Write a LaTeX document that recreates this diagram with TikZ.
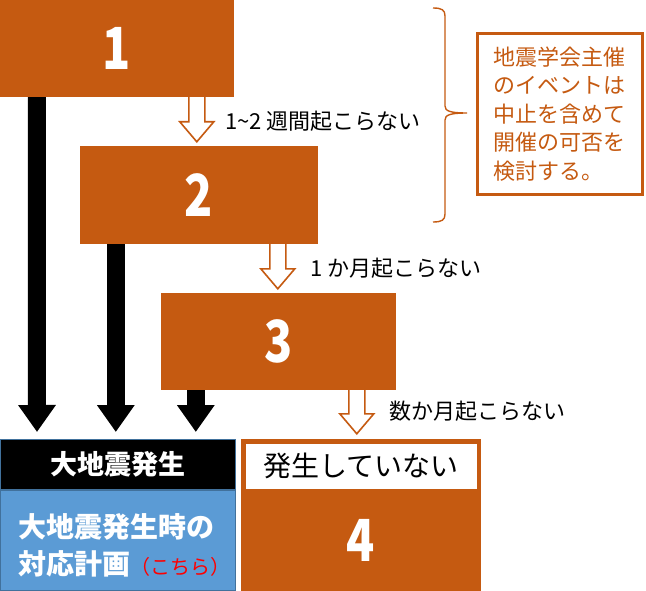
\documentclass[tikz,border=0pt]{standalone}
\usepackage{fontspec}
\newfontfamily\jp{Noto Sans CJK JP}
\usetikzlibrary{arrows.meta,calc}
\definecolor{orn}{HTML}{C55A11}
\definecolor{blu}{HTML}{5B9BD5}
\definecolor{blud}{HTML}{41719C}
\newcommand\dig[1]{{\fontsize{58}{58}\selectfont\bfseries\scalebox{0.8}[1]{#1}}}
\newcommand\hollowarrow[2]{%
  \draw[hol] ($(#1)+(-8,0)$) -- ($(#2)+(-8,-20)$) -- ($(#2)+(-17,-20)$) -- (#2)
    -- ($(#2)+(17,-20)$) -- ($(#2)+(8,-20)$) -- ($(#1)+(8,0)$);}
\begin{document}
\begin{tikzpicture}[x=1pt,y=-1pt,font=\jp,
  box/.style={fill=orn,draw=none,text=white,inner sep=0pt},
  blk/.style={line width=18pt,-{Triangle[width=36pt,length=27pt]}},
  hol/.style={draw=orn,fill=white,line width=1.6pt,line join=miter},
  lbl/.style={anchor=west,font=\jp\fontsize{22}{22}\selectfont,inner sep=0pt}]
\useasboundingbox (0,0) rectangle (646,591);
% orange boxes
\node[box,minimum width=234pt,minimum height=97pt] (b1) at (117,48.5) {\dig{1}};
\node[box,minimum width=238pt,minimum height=98pt] (b2) at (199,195) {\dig{2}};
\node[box,minimum width=235pt,minimum height=97pt] (b3) at (278.5,341.5) {\dig{3}};
\node[box,minimum width=240pt,minimum height=152pt] (b4) at (361,515) {};
\node[fill=white,inner sep=0pt,minimum width=231pt,minimum height=45pt,
      font=\jp\fontsize{28}{28}\selectfont] (nt) at (361,466) {発生していない};
\node[text=white,inner sep=0pt] (d4) at (361,540) {\dig{4}};
% earthquake boxes
\node[fill=black,draw=blud,line width=1pt,minimum width=235pt,minimum height=51pt,
      inner sep=0pt,text=white,font=\jp\bfseries\fontsize{27}{27}\selectfont] (eq) at (118,464.5) {大地震発生};
\node[fill=blu,draw=blud,line width=1.2pt,minimum width=235pt,minimum height=101pt,inner sep=0pt] (pl) at (118,540.5) {};
\node[anchor=west,align=left,text=white,inner sep=0pt,
      font=\jp\bfseries\fontsize{28}{37}\selectfont] (plt) at (18,545)
      {大地震発生時の\\対応計画{\mdseries\color{red}\fontsize{20}{20}\selectfont （こちら）}};
% black arrows
\draw[blk] ([xshift=37pt]b1.south west) -- ([xshift=37pt]eq.north west |- 0,432);
\draw[blk] ([xshift=36pt]b2.south west) -- ([xshift=36pt]b2.south west |- 0,432);
\draw[blk] ([xshift=35pt]b3.south west) -- ([xshift=35pt]b3.south west |- 0,432);
% hollow arrows
\coordinate (a1s) at ([xshift=197pt]b1.south west);
\coordinate (a1e) at ($(a1s |- b2.north)+(0,-4)$);
\hollowarrow{a1s}{a1e}
\coordinate (a2s) at ([xshift=198pt]b2.south west);
\coordinate (a2e) at ($(a2s |- b3.north)+(0,-4)$);
\hollowarrow{a2s}{a2e}
\coordinate (a3s) at ([xshift=196pt]b3.south west);
\coordinate (a3e) at ($(a3s |- b4.north)+(0,-5)$);
\hollowarrow{a3s}{a3e}
\node[lbl] (l1) at ($(a1s)+(28,24)$) {1{\char"7E}2 週間起こらない};
\node[lbl] (l2) at ($(a2s)+(32,24)$) {1 か月起こらない};
\node[lbl] (l3) at ($(a3s)+(32,21)$) {数か月起こらない};
% brace
\draw[orn,line width=1.4pt] (433,8) .. controls (442,8) and (445,10) .. (445,16) -- (445,106)
  .. controls (445,111) and (450,113) .. (467,113) .. controls (450,113) and (445,115) .. (445,120)
  -- (445,214) .. controls (445,220) and (442,222) .. (433,222);
% note box
\node[draw=orn,line width=3pt,minimum width=165pt,minimum height=161pt,inner sep=0pt,
      align=left,text=orn,font=\jp\fontsize{22}{28.5}\selectfont] (note) at (559.5,114)
      {地震学会主催\\のイベントは\\中止を含めて\\開催の可否を\\検討する。};
\end{tikzpicture}
\end{document}
